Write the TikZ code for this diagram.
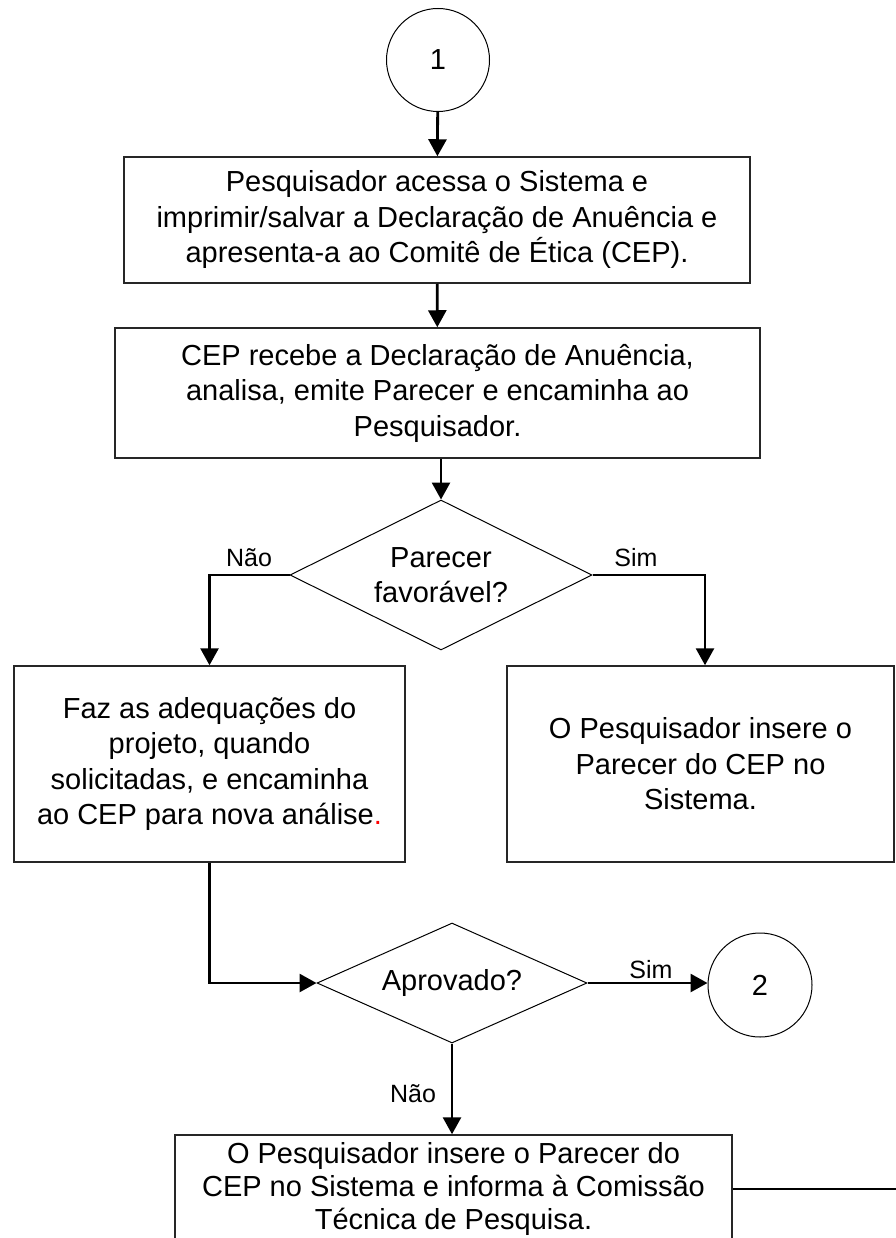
\documentclass[tikz,border=0pt]{standalone}
\usepackage{fontspec}
\setmainfont{Liberation Sans}
\usetikzlibrary{arrows.meta,shapes.geometric}
\begin{document}
\begin{tikzpicture}[x=1pt,y=-1pt,
  txt/.style={font=\fontsize{29}{35.5}\selectfont, align=center},
  lbl/.style={font=\fontsize{25}{30}\selectfont, anchor=base, inner sep=0},
  boxn/.style={draw=black!85, line width=1.5pt, txt, inner sep=0},
  circ/.style={circle, draw, line width=1pt, minimum size=103pt, inner sep=0, txt},
  dec/.style={diamond, draw, line width=1pt, inner sep=0, txt},
  conn/.style={line width=2.8pt, -{Triangle[length=17pt,width=18pt]}},
  plainline/.style={line width=2.8pt}]
\useasboundingbox (0,0) rectangle (895,1238);

\node[circ] (c1) at (438,60) {1};
\node[boxn, minimum width=626pt, minimum height=126pt] (b1) at (437,220)
  {Pesquisador acessa o Sistema e\\imprimir/salvar a Declaração de Anuência e\\apresenta-a ao Comitê de Ética (CEP).};
\node[boxn, minimum width=645pt, minimum height=130pt] (b2) at (437.5,393)
  {CEP recebe a Declaração de Anuência,\\analisa, emite Parecer e encaminha ao\\Pesquisador.};
\node[dec, aspect=2, minimum width=302pt, minimum height=150pt] (d1) at (441,575)
  {Parecer\\favorável?};
\node[boxn, minimum width=391pt, minimum height=196pt] (L) at (209.5,764)
  {Faz as adequações do\\projeto, quando\\solicitadas, e encaminha\\ao CEP para nova análise{\color{red}.}};
\node[boxn, minimum width=387pt, minimum height=196pt] (R) at (700.5,764)
  {O Pesquisador insere o\\Parecer do CEP no\\Sistema.};
\node[dec, aspect=2.25, minimum width=270pt, minimum height=120pt] (d2) at (452,983)
  {Aprovado?};
\node[circ, minimum size=104pt] (c2) at (760,985) {2};
\node[boxn, minimum width=557pt, minimum height=108pt, font=\fontsize{29}{33}\selectfont] (b3) at (453.5,1189)
  {O Pesquisador insere o Parecer do\\CEP no Sistema e informa à Comissão\\Técnica de Pesquisa.};
\coordinate (out) at (896,1189);

\draw[conn] (c1) -- (b1);
\draw[conn] (b1) -- (b2);
\draw[conn] (b2.south -| d1.north) -- (d1.north);
\draw[conn] (d1.west) -| (L.north);
\draw[conn] (d1.east) -| ([xshift=4.5pt]R.north);
\draw[conn] (L.south) |- (d2.west);
\draw[conn] (d2.east) -- (c2.west |- d2.east);
\draw[conn] (d2.south) -- (d2.south |- b3.north);
\draw[plainline] (b3.east) -- (out);

\node[lbl] (l1) at (249,566) {Não};
\node[lbl] (l2) at (636,566) {Sim};
\node[lbl] (l3) at (651,978) {Sim};
\node[lbl] (l4) at (413,1102) {Não};
\end{tikzpicture}
\end{document}
